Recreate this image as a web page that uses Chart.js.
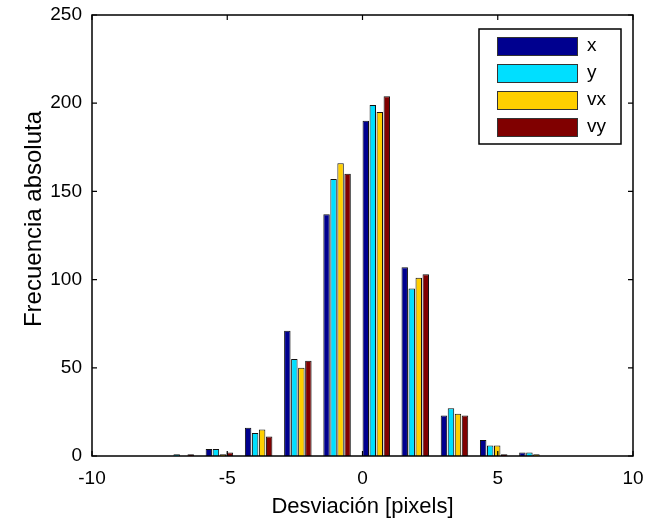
<!DOCTYPE html>
<html><head><meta charset="utf-8">
<script src="https://cdn.jsdelivr.net/npm/chart.js@4/dist/chart.umd.min.js"></script>
<style>html,body{margin:0;padding:0;background:#fff}#wrap{width:645px;height:521px;position:relative}</style>
</head><body><div id="wrap"><canvas id="c" width="645" height="521"></canvas></div>
<script>
const binCenters = [-6.74, -5.29, -3.84, -2.39, -0.94, 0.51, 1.95, 3.40, 4.85, 6.30];
const seriesLabels = ['x', 'y', 'vx', 'vy'];
const countsX  = [0, 4, 16, 71, 137, 190, 107, 23, 9, 2];
const countsY  = [1, 4, 13, 55, 157, 199, 95, 27, 6, 2];
const countsVx = [0, 1, 15, 50, 166, 195, 101, 24, 6, 1];
const countsVy = [1, 2, 11, 54, 160, 204, 103, 23, 1, 0];
const xTicks = [-10, -5, 0, 5, 10];
const yTicks = [0, 50, 100, 150, 200, 250];
const seriesColors = ['#00008F', '#00DFFF', '#FFCF00', '#800000'];
const xTitle = 'Desviación [pixels]';
const yTitle = 'Frecuencia absoluta';

const FONT = 'Liberation Sans, Arial, Helvetica, sans-serif';
const allCounts = [countsX, countsY, countsVx, countsVy];
const datasets = allCounts.map((arr, k) => ({
  label: seriesLabels[k],
  data: arr.map((v, i) => ({x: binCenters[i], y: v})),
  backgroundColor: seriesColors[k],
  borderColor: '#111',
  borderWidth: 1,
  borderSkipped: 'bottom',
  barPercentage: 0.92,
  categoryPercentage: 0.72
}));

const framePlugin = {
  id: 'frame',
  afterDatasetsDraw(chart) {
    const {ctx, chartArea: a, scales} = chart;
    ctx.save();
    ctx.strokeStyle = '#000';
    ctx.lineWidth = 1.5;
    ctx.strokeRect(a.left, a.top, a.right - a.left, a.bottom - a.top);
    ctx.lineWidth = 1.2;
    const tl = 5;
    ctx.beginPath();
    xTicks.forEach(v => {
      const px = scales.x.getPixelForValue(v);
      ctx.moveTo(px, a.bottom); ctx.lineTo(px, a.bottom - tl);
      ctx.moveTo(px, a.top); ctx.lineTo(px, a.top + tl);
    });
    yTicks.forEach(v => {
      const py = scales.y.getPixelForValue(v);
      ctx.moveTo(a.left, py); ctx.lineTo(a.left + tl, py);
      ctx.moveTo(a.right, py); ctx.lineTo(a.right - tl, py);
    });
    ctx.stroke();

    // y-axis title
    ctx.save();
    ctx.translate(34, 219);
    ctx.rotate(-Math.PI / 2);
    ctx.fillStyle = '#000';
    ctx.font = '24px ' + FONT;
    ctx.textAlign = 'center';
    ctx.textBaseline = 'middle';
    ctx.fillText(yTitle, 0, 0);
    ctx.restore();

    // legend box
    const lx = 479, ly = 29, lw = 142, lh = 115;
    ctx.fillStyle = '#fff';
    ctx.fillRect(lx, ly, lw, lh);
    ctx.lineWidth = 1.5;
    ctx.strokeStyle = '#000';
    ctx.strokeRect(lx, ly, lw, lh);
    ctx.font = '19px ' + FONT;
    ctx.textBaseline = 'middle';
    ctx.textAlign = 'left';
    chart.data.datasets.forEach((ds, k) => {
      const y0 = 37 + k * 27;
      ctx.fillStyle = ds.backgroundColor;
      ctx.fillRect(497, y0, 81, 19);
      ctx.lineWidth = 1;
      ctx.strokeStyle = '#333';
      ctx.strokeRect(497.5, y0 + 0.5, 80, 18);
      ctx.fillStyle = '#000';
      ctx.fillText(ds.label, 587, y0 + 9);
    });
    ctx.restore();
  }
};

new Chart(document.getElementById('c'), {
  type: 'bar',
  data: {datasets},
  options: {
    responsive: false,
    animation: false,
    devicePixelRatio: 1,
    layout: {padding: {top: 15, right: 12, left: 0, bottom: 0}},
    plugins: {legend: {display: false}, tooltip: {enabled: false}},
    scales: {
      x: {
        type: 'linear', min: -10, max: 10, offset: false,
        afterBuildTicks: s => { s.ticks = xTicks.map(v => ({value: v})); },
        afterFit: s => { s.height = 65; s.paddingLeft = 0; s.paddingRight = 0; },
        grid: {display: false, drawTicks: false},
        border: {display: false},
        ticks: {color: '#000', padding: 11, font: {family: FONT, size: 19}, maxRotation: 0},
        title: {display: true, text: xTitle, color: '#000',
                font: {family: FONT, size: 22}, padding: {top: 0, bottom: 1}}
      },
      y: {
        min: 0, max: 250,
        afterBuildTicks: s => { s.ticks = yTicks.map(v => ({value: v})); },
        afterFit: s => { s.width = 92; s.paddingTop = 0; s.paddingBottom = 0; },
        grid: {display: false, drawTicks: false},
        border: {display: false},
        ticks: {color: '#000', padding: 10, font: {family: FONT, size: 19}}
      }
    }
  },
  plugins: [framePlugin]
});
</script></body></html>
